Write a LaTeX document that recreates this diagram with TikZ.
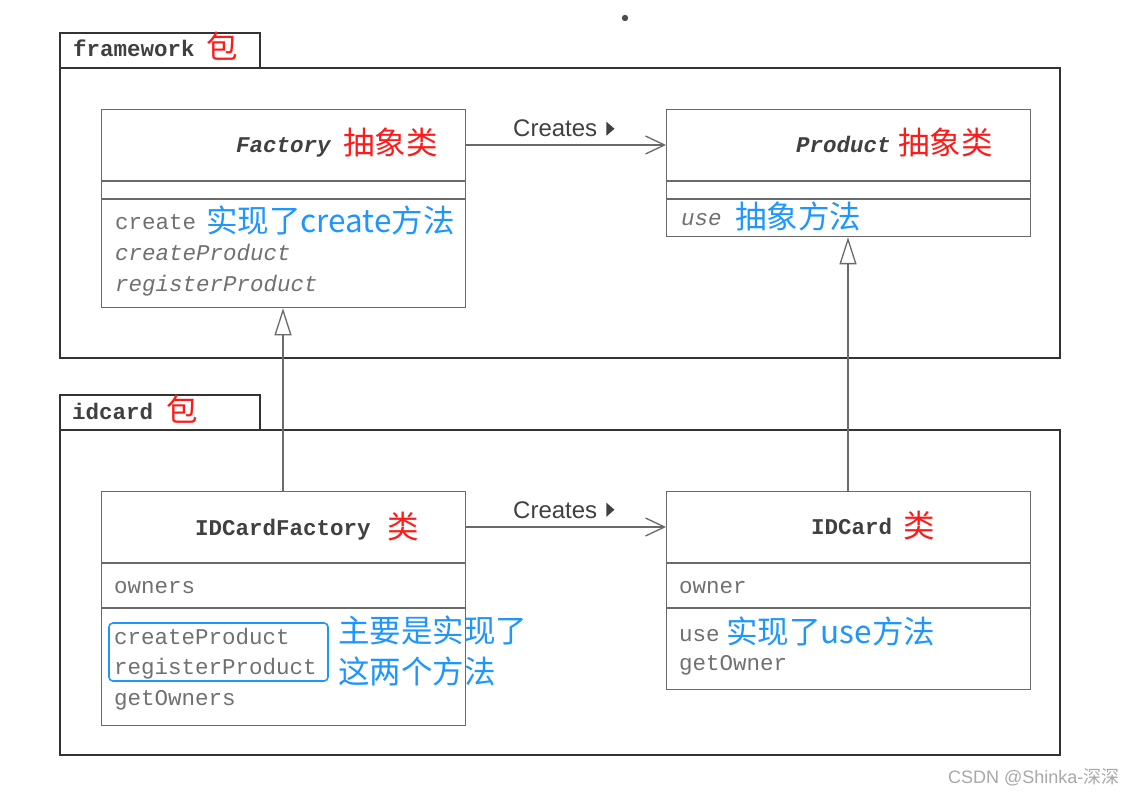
\documentclass[tikz,border=0pt]{standalone}
\usepackage{fontspec}
\setmainfont{Liberation Sans}
\setmonofont{Liberation Mono}
\newfontfamily\cjk{Noto Sans CJK SC}
\usetikzlibrary{arrows.meta}
\definecolor{pkgline}{HTML}{333333}
\definecolor{clsline}{HTML}{6A6A6A}
\definecolor{memtext}{HTML}{707070}
\definecolor{titletext}{HTML}{404040}
\definecolor{cnred}{HTML}{FF1A1A}
\definecolor{cnblue}{HTML}{1E96FF}
\definecolor{wm}{HTML}{A8A8A8}
\tikzset{
  pkg/.style={draw=pkgline, line width=2.4pt, fill=none, inner sep=0pt, anchor=north west},
  cls/.style={draw=clsline, line width=1.3pt, inner sep=0pt, anchor=north west},
  divider/.style={draw=clsline, line width=1.3pt},
  mem/.style={inner sep=0pt, anchor=base west, text=memtext, font=\ttfamily\fontsize{22.5}{27}\selectfont},
  ttl/.style={inner sep=0pt, anchor=base west, text=titletext, font=\ttfamily\bfseries\fontsize{22.5}{27}\selectfont},
  pkglbl/.style={inner sep=0pt, anchor=base west, text=titletext, font=\ttfamily\bfseries\fontsize{22.5}{27}\selectfont},
  red/.style={inner sep=0pt, anchor=base west, text=cnred, font=\cjk\fontsize{31.5}{36}\selectfont},
  blue/.style={inner sep=0pt, anchor=base west, text=cnblue, font=\cjk\fontsize{31.5}{36}\selectfont},
  lbl/.style={inner sep=0pt, anchor=base west, text=titletext, font=\fontsize{24}{28}\selectfont},
  assoc/.style={draw=clsline, line width=1.3pt, -{Straight Barb[length=19pt,width=18pt,line width=1.3pt]}},
  inherit/.style={draw=clsline, line width=1.3pt, -{Triangle[open,length=27pt,width=17pt,line width=1.3pt,fill=white]}},
  tri/.style={fill=titletext},
}
\begin{document}
\begin{tikzpicture}[x=1pt,y=-1pt]
\useasboundingbox (0,0) rectangle (1135,794);
\fill[white] (0,0) rectangle (1135,794);
% stray dot
\fill[black!70] (625,18) circle (3.2);

% packages
\node[pkg, minimum width=200pt, minimum height=35pt] (fwtab) at (59,32) {};
\node[pkg, minimum width=1000pt, minimum height=290pt] (fwpkg) at (59,67) {};
\node[pkglbl] (fwname) at (73,57) {framework};
\node[red] (fwbao) at (206,59) {包};

\node[pkg, minimum width=200pt, minimum height=35pt] (idtab) at (59,394) {};
\node[pkg, minimum width=1000pt, minimum height=325pt] (idpkg) at (59,429) {};
\node[pkglbl] (idname) at (72,419) {idcard};
\node[red] (idbao) at (166,421) {包};

% Factory
\node[cls, minimum width=364pt, minimum height=198pt] (factory) at (101,109) {};
\draw[divider] (factory.west |- 0,181) -- (factory.east |- 0,181);
\draw[divider] (factory.west |- 0,199) -- (factory.east |- 0,199);
\node[ttl, font=\ttfamily\bfseries\itshape\fontsize{22.5}{27}\selectfont] (factoryname) at (236,153) {Factory};
\node[red] (factorycn) at (343,155) {抽象类};
\node[mem] (fcreate) at (115,230) {create};
\node[blue] (fcreatecn) at (206,233) {实现了create方法};
\node[mem, font=\ttfamily\itshape\fontsize{22.5}{27}\selectfont] (fcp) at (115,261) {createProduct};
\node[mem, font=\ttfamily\itshape\fontsize{22.5}{27}\selectfont] (frp) at (115,292) {registerProduct};

% Product
\node[cls, minimum width=364pt, minimum height=127pt] (product) at (666,109) {};
\draw[divider] (product.west |- 0,181) -- (product.east |- 0,181);
\draw[divider] (product.west |- 0,199) -- (product.east |- 0,199);
\node[ttl, font=\ttfamily\bfseries\itshape\fontsize{22.5}{27}\selectfont] (productname) at (796,153) {Product};
\node[red] (productcn) at (898,155) {抽象类};
\node[mem, font=\ttfamily\itshape\fontsize{22.5}{27}\selectfont] (puse) at (681,226) {use};
\node[blue] (pusecn) at (735,229) {抽象方法};

% IDCardFactory
\node[cls, minimum width=364pt, minimum height=234pt] (idf) at (101,491) {};
\draw[divider] (idf.west |- 0,563) -- (idf.east |- 0,563);
\draw[divider] (idf.west |- 0,608) -- (idf.east |- 0,608);
\node[ttl] (idfname) at (195,535) {IDCardFactory};
\node[red] (idfcn) at (387,538) {类};
\node[mem] (idfowners) at (114,593) {owners};
\node[mem] (idfcp) at (114,644) {createProduct};
\node[mem] (idfrp) at (114,674) {registerProduct};
\node[mem] (idfgo) at (114,705) {getOwners};
\draw[cnblue, line width=1.6pt, rounded corners=4pt] (109,623) rectangle (328,681);
\node[blue] (idfnote1) at (338,642) {主要是实现了};
\node[blue] (idfnote2) at (338,683) {这两个方法};

% IDCard
\node[cls, minimum width=364pt, minimum height=198pt] (idc) at (666,491) {};
\draw[divider] (idc.west |- 0,563) -- (idc.east |- 0,563);
\draw[divider] (idc.west |- 0,608) -- (idc.east |- 0,608);
\node[ttl] (idcname) at (811,534) {IDCard};
\node[red] (idccn) at (903,537) {类};
\node[mem] (idcowner) at (679,593) {owner};
\node[mem] (idcuse) at (679,641) {use};
\node[blue] (idcusecn) at (726,643) {实现了use方法};
\node[mem] (idcgo) at (679,670) {getOwner};

% associations
\draw[assoc] (factory.east |- 0,145) -- (product.west |- 0,145);
\node[lbl] (creates1) at (513,137) {Creates};
\fill[tri] (creates1.east) ++(9pt,7pt) -- ++(8pt,-7pt) -- ++(-8pt,-7pt) -- cycle;
\draw[assoc] (idf.east |- 0,527) -- (idc.west |- 0,527);
\node[lbl] (creates2) at (513,518) {Creates};
\fill[tri] (creates2.east) ++(9pt,7pt) -- ++(8pt,-7pt) -- ++(-8pt,-7pt) -- cycle;

% generalizations
\draw[inherit] (idf.north -| 283,0) -- (factory.south -| 283,0);
\draw[inherit] (idc.north -| 848,0) -- (product.south -| 848,0);

% watermark
\node[inner sep=0pt, anchor=base west, text=wm, font=\fontsize{18}{20}\selectfont] (wmark) at (948,783) {CSDN @Shinka-{\cjk 深深}};
\end{tikzpicture}
\end{document}
